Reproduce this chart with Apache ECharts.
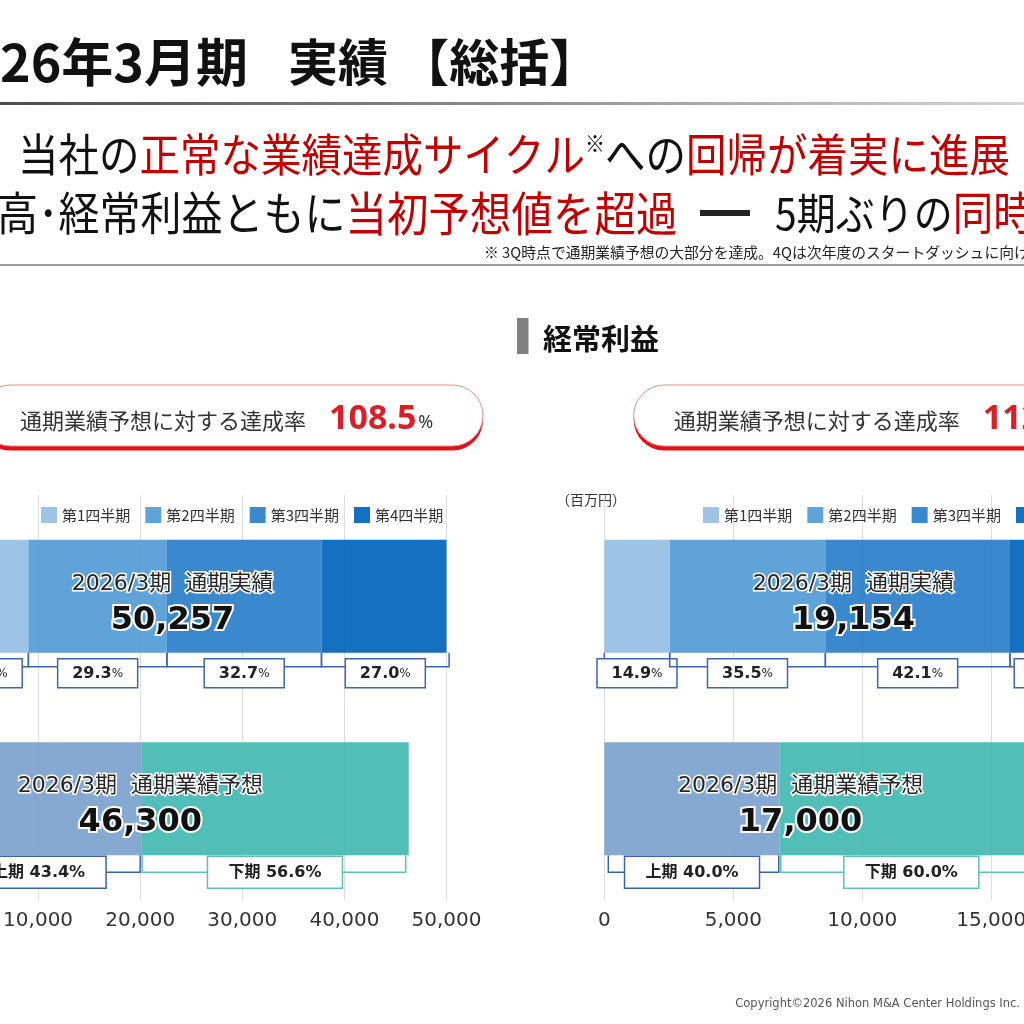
<!DOCTYPE html>
<html><head><meta charset="utf-8">
<script src="https://cdn.jsdelivr.net/npm/echarts@6/dist/echarts.min.js"></script>
<style>html,body{margin:0;padding:0;background:#fff}#c{width:1024px;height:1024px}</style>
</head><body><div id="c"></div>
<script>
// ---------------- data ----------------
const quarterNames = ['第1四半期', '第2四半期', '第3四半期', '第4四半期'];
const halfNames = ['上期', '下期'];
const barCategories = ['通期実績', '通期業績予想'];
const periodLabel = '2026/3期';

const salesQuarterValues = [9050, 13566, 15140, 12501];
const salesQuarterPct = [19.5, 29.3, 32.7, 27.0];
const salesHalfValues = [20094, 26206];
const salesHalfPct = [43.4, 56.6];
const salesActualTotal = 50257;
const salesForecastTotal = 46300;
const salesRate = 108.5;
const salesTicks = [0, 10000, 20000, 30000, 40000, 50000];

const profitQuarterValues = [2533, 6035, 7157, 3429];
const profitQuarterPct = [14.9, 35.5, 42.1, 20.2];
const profitHalfValues = [6800, 10200];
const profitHalfPct = [40.0, 60.0];
const profitActualTotal = 19154;
const profitForecastTotal = 17000;
const profitRate = 112.7;
const profitTicks = [0, 5000, 10000, 15000, 20000];

// ---------------- style ----------------
const FONT_JP = "'Noto Sans CJK JP', 'Noto Sans', sans-serif";
const FONT_NUM = "'DejaVu Sans', 'Noto Sans CJK JP', sans-serif";
const RED = '#c00000';
const BAR_OPACITY = 0.92;
const quarterColors = ['#95bee4', '#519bd6', '#297fcb', '#0064bb'];
const halfColors = ['#7ca2cd', '#43b9b2'];
const halfLineColors = ['#3c62ad', '#5cc0b8'];
const quarterLineColor = '#3e67a8';
const BAR_W = 113;

const charts = [
  { q: salesQuarterValues, qp: salesQuarterPct, h: salesHalfValues, hp: salesHalfPct,
    at: salesActualTotal, ft: salesForecastTotal, ticks: salesTicks,
    grid: { left: -64, top: 495, width: 510.5, height: 405 }, labelDx: [-20, -32] },
  { q: profitQuarterValues, qp: profitQuarterPct, h: profitHalfValues, hp: profitHalfPct,
    at: profitActualTotal, ft: profitForecastTotal, ticks: profitTicks,
    grid: { left: 604.3, top: 495, width: 516, height: 405 }, labelDx: [2, -23] }
];

function fmt(v) { return Math.round(v).toLocaleString('en-US'); }

function bracketRender(params, api) {
  const s = api.value(0), e = api.value(1), cat = api.value(2), pct = api.value(3),
        kind = api.value(4), idx = api.value(5);
  const a = api.coord([s, cat]), b = api.coord([e, cat]);
  const yb = a[1] + BAR_W / 2;
  const ch = [];
  if (kind === 0) {
    const d = 14, x0 = a[0], x1 = b[0];
    ch.push({ type: 'polyline', shape: { points: [[x0, yb], [x0, yb + d], [x1, yb + d], [x1, yb]] },
      style: { stroke: quarterLineColor, lineWidth: 1.5, fill: null } });
    const cx = (x0 + x1) / 2, cy = yb + 20.5;
    ch.push({ type: 'rect', shape: { x: cx - 40, y: cy - 14.5, width: 80, height: 29 },
      style: { fill: '#fff', stroke: quarterLineColor, lineWidth: 1.5 } });
    ch.push({ type: 'text', x: cx, y: cy + 1, style: {
      text: '{n|' + pct.toFixed(1) + '}{p|%}',
      rich: { n: { fontSize: 16, fontWeight: 'bold', fontFamily: FONT_NUM, fill: '#222' },
              p: { fontSize: 12, fontFamily: FONT_NUM, fill: '#222' } },
      align: 'center', verticalAlign: 'middle' } });
  } else {
    const d = 17, x0 = a[0] + (idx === 0 ? 4 : 1), x1 = b[0] - (idx === 0 ? 1 : 3);
    const col = halfLineColors[idx];
    ch.push({ type: 'polyline', shape: { points: [[x0, yb], [x0, yb + d], [x1, yb + d], [x1, yb]] },
      style: { stroke: col, lineWidth: 1.5, fill: null } });
    const cx = (a[0] + b[0]) / 2, cy = yb + 17;
    ch.push({ type: 'rect', shape: { x: cx - 67.5, y: cy - 16, width: 135, height: 32 },
      style: { fill: '#fff', stroke: col, lineWidth: 1.5 } });
    ch.push({ type: 'text', x: cx, y: cy + 1, style: {
      text: halfNames[idx] + ' ' + pct.toFixed(1) + '%',
      fontSize: 16, fontWeight: 'bold', fontFamily: FONT_NUM, fill: '#222',
      align: 'center', verticalAlign: 'middle' } });
  }
  return { type: 'group', children: ch };
}

function makeTotalRender(dx) {
  return function (params, api) {
    const total = api.value(0), cat = api.value(1);
    const p = api.coord([total / 2, cat]);
    const x = p[0] + dx[cat];
    return { type: 'group', children: [
      { type: 'text', x: x, y: p[1] - 12, style: {
        text: periodLabel + '  ' + barCategories[cat], fontSize: 22, fontFamily: FONT_NUM,
        fill: '#262626', stroke: '#fff', lineWidth: 3, align: 'center', verticalAlign: 'middle' } },
      { type: 'text', x: x, y: p[1] + 24, style: {
        text: fmt(total), fontSize: 32, fontWeight: 'bold', fontFamily: FONT_NUM,
        fill: '#111', stroke: '#fff', lineWidth: 4, align: 'center', verticalAlign: 'middle' } }
    ] };
  };
}

const grids = [], xAxes = [], yAxes = [], series = [];
charts.forEach((c, gi) => {
  grids.push(Object.assign({ containLabel: false, outerBoundsMode: 'none' }, c.grid));
  xAxes.push({ type: 'value', gridIndex: gi, min: c.ticks[0], max: c.ticks[c.ticks.length - 1],
    interval: c.ticks[1] - c.ticks[0],
    axisLine: { show: false }, axisTick: { show: false },
    splitLine: { show: true, lineStyle: { color: '#dcdcdc', width: 1 } },
    axisLabel: { fontSize: 20, color: '#333', margin: 11, fontFamily: FONT_NUM, formatter: v => fmt(v) } });
  yAxes.push({ type: 'category', gridIndex: gi, data: barCategories, inverse: true, show: false });
  c.q.forEach((v, i) => series.push({ type: 'bar', name: quarterNames[i], xAxisIndex: gi, yAxisIndex: gi,
    stack: 's' + gi, barWidth: BAR_W, data: [v, 0], itemStyle: { color: quarterColors[i], opacity: BAR_OPACITY }, silent: true }));
  c.h.forEach((v, j) => series.push({ type: 'bar', name: halfNames[j], xAxisIndex: gi, yAxisIndex: gi,
    stack: 's' + gi, barWidth: BAR_W, data: [0, v], itemStyle: { color: halfColors[j], opacity: BAR_OPACITY }, silent: true }));
  const bd = [];
  let acc = 0;
  c.q.forEach((v, i) => { bd.push([acc, acc + v, 0, c.qp[i], 0, i]); acc += v; });
  acc = 0;
  c.h.forEach((v, j) => { bd.push([acc, acc + v, 1, c.hp[j], 1, j]); acc += v; });
  series.push({ type: 'custom', xAxisIndex: gi, yAxisIndex: gi, z: 5, silent: true,
    data: bd, encode: { x: [0, 1], y: 2 }, renderItem: bracketRender });
  series.push({ type: 'custom', xAxisIndex: gi, yAxisIndex: gi, z: 6, silent: true,
    data: [[c.at, 0], [c.ft, 1]], encode: { x: 0, y: 1 }, renderItem: makeTotalRender(c.labelDx) });
});

function pill(x, rate) {
  return [
    { type: 'rect', shape: { x: x, y: 389.5, width: 503, height: 61, r: 30.5 },
      style: { fill: '#e3101c' } },
    { type: 'rect', shape: { x: x, y: 385, width: 503, height: 61, r: 30.5 },
      style: { fill: '#fff', stroke: '#e88a8a', lineWidth: 1 } },
    { type: 'text', x: x + 40, y: 421, style: { text: '通期業績予想に対する達成率', fontSize: 22,
      fontFamily: FONT_JP, fill: '#333', align: 'left', verticalAlign: 'middle' } },
    { type: 'text', x: x + 349, y: 419, style: { text: '{v|' + rate.toFixed(1) + '}{p|%}',
      rich: { v: { fontSize: 34, fontWeight: 'bold', fontFamily: "'Noto Sans', sans-serif", fill: '#dc1e28' },
              p: { fontSize: 18, fontFamily: "'Noto Sans', sans-serif", fill: '#333', padding: [8, 0, 0, 2] } },
      align: 'left', verticalAlign: 'middle' } }
  ];
}

const graphic = [
  { type: 'text', x: 248, y: 62, style: { text: '2026年3月期', fontSize: 52, fontWeight: 'bold', fontFamily: FONT_JP,
    fill: '#111', align: 'right', verticalAlign: 'middle' } },
  { type: 'text', x: 288, y: 62, style: { text: '実績 【総括】', fontSize: 50, fontWeight: 'bold', fontFamily: FONT_JP,
    fill: '#111', align: 'left', verticalAlign: 'middle' } },
  { type: 'rect', shape: { x: 0, y: 102, width: 1024, height: 3 },
    style: { fill: { type: 'linear', x: 0, y: 0, x2: 1, y2: 0, colorStops: [{ offset: 0, color: '#4a4a4a' }, { offset: 1, color: '#d4d4d4' }] } } },
  { type: 'text', x: 18, y: 155, scaleY: 1.12, style: {
    text: '当社の{r|正常な業績達成サイクル}{s|※}への{r|回帰が着実に進展}',
    fontSize: 40.5, fontFamily: FONT_JP, fill: '#111',
    rich: { r: { fontSize: 40.5, fontFamily: FONT_JP, fill: RED }, s: { fontSize: 20, fontFamily: FONT_JP, fill: '#111', verticalAlign: 'top' } },
    align: 'left', verticalAlign: 'middle' } },
  { type: 'text', x: -85, y: 213, scaleY: 1.12, style: {
    text: '売上高･経常利益ともに{r|当初予想値を超過}',
    fontSize: 41, fontFamily: FONT_JP, fill: '#111',
    rich: { r: { fontSize: 41.5, fontFamily: FONT_JP, fill: RED } },
    align: 'left', verticalAlign: 'middle' } },
  { type: 'text', x: 700, y: 213, style: { text: '━', fontSize: 50, fontFamily: FONT_JP, fill: '#222',
    align: 'left', verticalAlign: 'middle' } },
  { type: 'text', x: 775, y: 213, scaleY: 1.12, style: {
    text: '5期ぶりの{r|同時達成}',
    fontSize: 39, fontFamily: FONT_JP, fill: '#111',
    rich: { r: { fontSize: 40.5, fontFamily: FONT_JP, fill: RED } },
    align: 'left', verticalAlign: 'middle' } },
  { type: 'text', x: 484, y: 252, style: { text: '※ 3Q時点で通期業績予想の大部分を達成。4Qは次年度のスタートダッシュに向け',
    fontSize: 14.8, fontFamily: FONT_JP, fill: '#222', align: 'left', verticalAlign: 'middle' } },
  { type: 'rect', shape: { x: 0, y: 264, width: 1024, height: 2 }, style: { fill: '#9c9c9c' } },
  { type: 'rect', shape: { x: 517, y: 318, width: 11.5, height: 36 }, style: { fill: '#808080' } },
  { type: 'text', x: 543, y: 339, style: { text: '経常利益', fontSize: 29, fontWeight: 'bold', fontFamily: FONT_JP,
    fill: '#111', align: 'left', verticalAlign: 'middle' } },
  { type: 'text', x: 556, y: 500, style: { text: '（百万円）', fontSize: 14, fontFamily: FONT_JP, fill: '#333',
    align: 'left', verticalAlign: 'middle' } },
  { type: 'text', x: 1020, y: 1004, style: { text: 'Copyright©2026 Nihon M&A Center Holdings Inc.', fontSize: 11.5,
    fontFamily: "'DejaVu Sans', sans-serif", fill: '#555', align: 'right', verticalAlign: 'middle' } }
].concat(pill(-20, salesRate), pill(633.7, profitRate));

const legendBase = { data: quarterNames, top: 507, padding: 0, width: 460, itemWidth: 16, itemHeight: 16, itemGap: 15, icon: 'rect',
  textStyle: { fontSize: 15, color: '#333', fontFamily: FONT_JP }, selectedMode: false };

const chart = echarts.init(document.getElementById('c'), null, { renderer: 'canvas' });
chart.setOption({
  animation: false,
  backgroundColor: '#fff',
  legend: [Object.assign({ left: 41 }, legendBase), Object.assign({ left: 703 }, legendBase)],
  grid: grids, xAxis: xAxes, yAxis: yAxes, series: series, graphic: graphic
});
</script></body></html>
